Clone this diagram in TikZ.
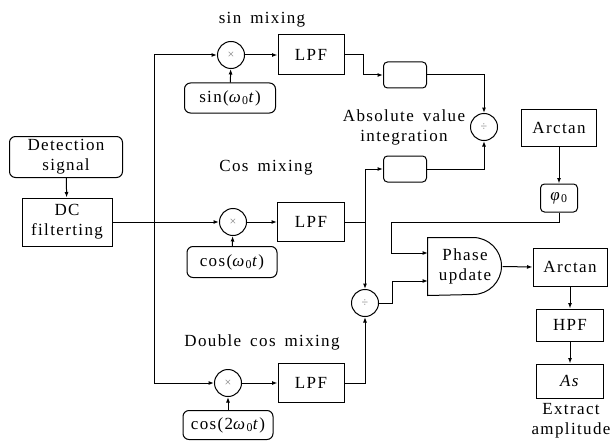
\documentclass[tikz,border=0pt]{standalone}
\usepackage{fontspec}
\setmainfont{Liberation Serif}[LetterSpace=8,WordSpace=1.6]
\usetikzlibrary{arrows.meta}
\begin{document}
\begin{tikzpicture}[x=1pt,y=-1pt,
  font=\fontsize{17}{20}\selectfont,
  line width=1pt,
  >={Latex[length=5.5pt,width=4pt]},
  box/.style={draw,rectangle,inner sep=0pt,align=center},
  rbox/.style={draw,rectangle,rounded corners=6pt,inner sep=0pt,align=center},
  op/.style={draw,circle,inner sep=0pt,minimum size=27pt,font=\fontsize{12}{12}\selectfont\color{gray}},
  lbl/.style={inner sep=0pt,align=center}]
\useasboundingbox (0,0) rectangle (612,441);
% left
\node[rbox,minimum width=113pt,minimum height=41pt] (det) at (66,157) {Detection\\signal};
\node[box,minimum width=90pt,minimum height=48pt] (dc) at (67,222) {DC\\filterting};
\coordinate (br) at (154,222);
% sin branch
\node[lbl] (ls) at (262,20) {sin mixing};
\node[op] (mixS) at (231,55) {×};
\node[rbox,minimum width=91pt,minimum height=30pt] (sinS) at (230,98) {sin(\textit{ω}\textsubscript{0}\textit{t})};
\node[box,minimum width=66pt,minimum height=40pt] (lpfS) at (311,55) {LPF};
\node[rbox,minimum width=43pt,minimum height=26pt,rounded corners=4pt] (absS) at (405,75) {};
% cos branch
\node[lbl] (lc) at (266,168) {Cos mixing};
\node[op] (mixC) at (233,222) {×};
\node[rbox,minimum width=90pt,minimum height=31pt] (cosC) at (232,262) {cos(\textit{ω}\textsubscript{0}\textit{t})};
\node[box,minimum width=67pt,minimum height=39pt] (lpfC) at (311,222) {LPF};
\node[rbox,minimum width=43pt,minimum height=26pt,rounded corners=4pt] (absC) at (405,169) {};
\coordinate (jc) at (365,222);
% absolute value / divider
\node[lbl] (la) at (404,127) {Absolute value\\integration};
\node[op] (divT) at (484,127) {÷};
% double cos branch
\node[lbl] (ld) at (262,342) {Double cos mixing};
\node[op] (mixD) at (228,383) {×};
\node[rbox,minimum width=90pt,minimum height=29pt] (cos2) at (228,425) {cos(2\textit{ω}\textsubscript{0}\textit{t})};
\node[box,minimum width=66pt,minimum height=39pt] (lpfD) at (311,383) {LPF};
\node[op] (divB) at (365,303) {÷};
% right part
\node[box,minimum width=75pt,minimum height=37pt] (arcT) at (559,128) {Arctan};
\node[rbox,minimum width=37pt,minimum height=28pt,rounded corners=4pt] (phi) at (559,198) {\textit{φ}\textsubscript{0}};
\node[lbl,minimum width=74pt,minimum height=57pt] (phase) at (465,266.5) {Phase\\update};
\draw (phase.north west) -- ++(45.5,0) arc[start angle=90,end angle=-90,radius=28.5pt] -- (phase.south west) -- cycle;
\coordinate (pin1) at (428,253);
\coordinate (pin2) at (428,281);
\coordinate (k1) at (391,222);
\coordinate (k2) at (392,303);
\node[box,minimum width=74pt,minimum height=38pt] (arcB) at (570,267) {Arctan};
\node[box,minimum width=67pt,minimum height=32pt] (hpf) at (570,325) {HPF};
\node[box,minimum width=67pt,minimum height=34pt] (as) at (570,381) {\textit{As}};
\node[lbl] (lx) at (571,421) {Extract\\amplitude};
% connectors
\draw[->] (det) -- (dc);
\draw[->] (dc.east) -- (mixC.west);
\draw[->] (br) |- (mixS.west);
\draw[->] (br) |- (mixD.west);
\draw[->] (sinS) -- (mixS);
\draw[->] (cosC) -- (mixC);
\draw[->] (cos2) -- (mixD);
\draw[->] (mixS) -- (lpfS);
\draw[->] (mixC) -- (lpfC);
\draw[->] (mixD) -- (lpfD);
\draw[->] (lpfS.east) -- ++(19,0) |- (absS.west);
\draw[->] (absS.east) -| (divT.north);
\draw[->] (absC.east) -| (divT.south);
\draw (lpfC.east) -- (jc);
\draw[->] (jc) |- (absC.west);
\draw[->] (jc) -- (divB.north);
\draw[->] (lpfD.east) -| (divB.south);
\draw[->] (divB.east) -- (k2) |- (pin2);
\draw[->] (arcT) -- (phi);
\draw[->] (phi.south) |- (k1) |- (pin1);
\draw[->] (phase.east) -- (arcB.west);
\draw[->] (arcB) -- (hpf);
\draw[->] (hpf) -- (as);
\end{tikzpicture}
\end{document}
